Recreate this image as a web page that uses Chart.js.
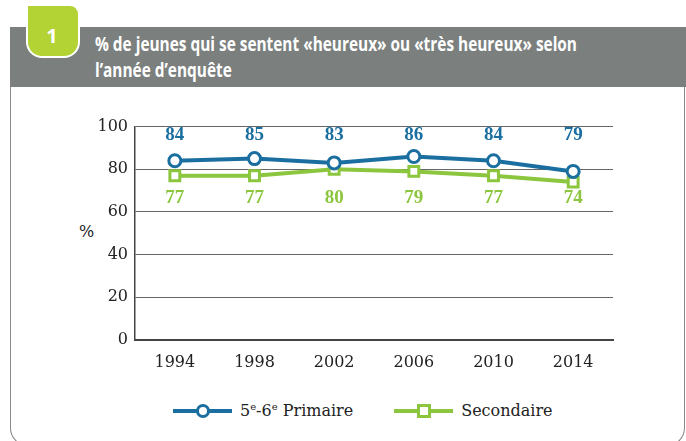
<!DOCTYPE html>
<html>
<head>
<meta charset="utf-8">
<script src="https://cdn.jsdelivr.net/npm/chart.js@4.4.1/dist/chart.umd.min.js"></script>
<style>
html,body{margin:0;padding:0;background:#fff;width:686px;height:441px;overflow:hidden;position:relative;font-family:"DejaVu Serif",serif}
#band{position:absolute;left:10px;top:27px;width:676px;height:60px;background:#7b7f7e}
#tab{position:absolute;left:26px;top:4px;width:50px;height:50px;background:#b3d334;border:2px solid #fff;border-radius:2px 10px 16px 16px;color:#fff;font:bold 20px "Open Sans",sans-serif;text-align:center;line-height:60px;box-sizing:content-box;overflow:hidden}
#tab span{display:inline-block;transform:translateX(-1px)}
#title{position:absolute;left:95px;top:31px;color:#fff;font-family:"Open Sans",sans-serif;font-weight:bold;font-size:20px;line-height:26px;white-space:nowrap}
#title div{transform-origin:0 0}
#panel{position:absolute;left:10px;top:87px;width:673px;height:358px;border:1.5px solid #8a8a8a;border-top:none;border-radius:0 0 18px 18px}
#wrap{position:absolute;left:60px;top:110px;width:580px;height:270px}
#pct{position:absolute;left:79px;top:222px;font:16px "DejaVu Serif",serif;color:#222}
#legend{position:absolute;left:173px;top:401px;display:flex;align-items:center;gap:41px;font:16px "DejaVu Serif",serif;color:#222}
.item{display:flex;align-items:center}
.sw{position:relative;width:59px;height:4px;margin-right:8px}
.mk{position:absolute;left:50%;top:50%;width:8px;height:8px;border:3px solid;background:#fff;transform:translate(-50%,-50%)}
sup{font-size:10px;vertical-align:6px;line-height:0}
</style>
</head>
<body>
<div id="band"></div>
<div id="panel"></div>
<div id="tab"><span>1</span></div>
<div id="title"><div id="t1">% de jeunes qui se sentent «heureux» ou «très heureux» selon</div><div id="t2">l’année d’enquête</div></div>
<div id="pct">%</div>
<div id="wrap"><canvas id="c" width="580" height="270"></canvas></div>
<div id="legend"></div>
<script>
const years=['1994','1998','2002','2006','2010','2014'];
const primaire=[84,85,83,86,84,79];
const secondaire=[77,77,80,79,77,74];
const yTicks=[0,20,40,60,80,100];
const seriesNames=['5<sup>e</sup>-6<sup>e</sup> Primaire','Secondaire'];
const blue='#1b6fa0',green='#8cc63e';
// rows where the value labels sit (in axis units)
const labelRowPrimaire=95.8,labelRowSecondaire=66.5;

// squeeze the title to the condensed width of the original
const t1=document.getElementById('t1');
const sq=482/t1.getBoundingClientRect().width;
document.querySelectorAll('#title div').forEach(d=>d.style.transform='scaleX('+sq+')');

const valueLabels={id:'valueLabels',afterDatasetsDraw(chart){
  const {ctx,scales:{y}}=chart;
  chart.data.datasets.forEach((ds,i)=>{
    const meta=chart.getDatasetMeta(i);const yy=y.getPixelForValue(ds.labelRow);
    ctx.save();ctx.font='bold 19px "Liberation Serif"';ctx.fillStyle=ds.borderColor;ctx.textAlign='center';ctx.textBaseline='middle';
    meta.data.forEach((p,j)=>ctx.fillText(String(ds.data[j]),p.x,yy));
    ctx.restore();
  });
}};

const chart=new Chart(document.getElementById('c'),{
  type:'line',
  data:{labels:years,datasets:[
    {label:'Primaire',data:primaire,labelRow:labelRowPrimaire,borderColor:blue,borderWidth:4,pointStyle:'circle',pointRadius:6,pointBorderWidth:3,pointBackgroundColor:'#fff',pointBorderColor:blue,tension:0},
    {label:'Secondaire',data:secondaire,labelRow:labelRowSecondaire,borderColor:green,borderWidth:4,pointStyle:'rect',pointRadius:7,pointBorderWidth:3,pointBackgroundColor:'#fff',pointBorderColor:green,tension:0}
  ]},
  options:{responsive:false,animation:false,devicePixelRatio:1,
    layout:{padding:{top:15,right:27,left:0,bottom:0}},
    plugins:{legend:{display:false},tooltip:{enabled:false}},
    scales:{
      y:{min:0,max:100,afterBuildTicks(s){s.ticks=yTicks.map(v=>({value:v}));},afterFit(s){s.width=75;},
        ticks:{color:'#222',padding:7,font:{family:'DejaVu Serif',size:16}},
        grid:{color:'#666',lineWidth:1,drawTicks:false},border:{display:true,color:'#444',width:1.5}},
      x:{offset:true,afterFit(s){s.height=40;},
        ticks:{color:'#222',padding:13,font:{family:'DejaVu Serif',size:16}},
        grid:{display:false,drawTicks:false},border:{display:true,color:'#444',width:2}}
    }
  },
  plugins:[valueLabels]
});

const lg=document.getElementById('legend');
chart.data.datasets.forEach((ds,i)=>{
  const it=document.createElement('div');it.className='item';
  const r=ds.pointStyle==='circle'?'50%':'0';
  it.innerHTML='<span class="sw" style="background:'+ds.borderColor+'"><span class="mk" style="border-color:'+ds.borderColor+';border-radius:'+r+'"></span></span><span>'+seriesNames[i]+'</span>';
  lg.appendChild(it);
});
</script>
</body>
</html>
